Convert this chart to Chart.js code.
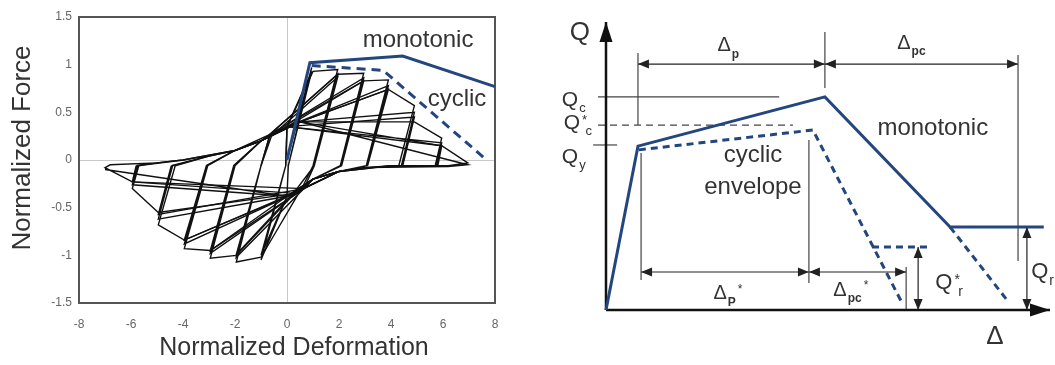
<!DOCTYPE html>
<html>
<head>
<meta charset="utf-8">
<script src="https://cdn.jsdelivr.net/npm/chart.js@4.4.1/dist/chart.umd.min.js"></script>
<style>
  body { margin: 0; background: #fff; }
  #left { position: absolute; left: 0; top: 0; }
  #right { position: absolute; left: 520px; top: 0; }
</style>
</head>
<body>
<canvas id="left" width="520" height="365"></canvas>
<canvas id="right" width="535" height="365"></canvas>
<script>
// Links: Hysterese-Schleifen (normierte Kraft / Verformung)
// Rechts: Modell-Rückgratkurve mit Bemaßung

const blue = '#24467e';
const font = '"Liberation Sans", Arial, sans-serif';

// ---- linkes Diagramm ----
const xTickValues = [-8, -6, -4, -2, 0, 2, 4, 6, 8];
const yTickValues = [-1.5, -1, -0.5, 0, 0.5, 1, 1.5];

const monotonicBackbone = [[0, 0], [0.88, 1.02], [4.45, 1.09], [8, 0.77]];
const cyclicBackbone = [[0.95, 0.99], [3.7, 0.94], [7.55, 0.03]];

const cycleAmp1 = [[0, 0], [0.95, 0.97], [0.05, -0.06], [0, -0.38], [-1, -1.05], [-0.05, -0.06], [0, 0.35],
  [0.95, 0.93], [0.05, -0.06], [0, -0.38], [-1, -1.0], [-0.05, -0.06]];
const cycleAmp2 = [[-0.05, -0.06], [0, 0.35], [1, 0.93], [1.95, 0.95], [1.0, -0.06], [0.6, -0.28],
  [-1, -1.02], [-1.95, -1.07], [-1.0, -0.06], [-0.65, 0.27], [1.95, 0.9], [1.05, -0.06], [0.65, -0.3],
  [-1.95, -1.02], [-1.0, -0.06], [-0.6, 0.25], [1.95, 0.87], [1.05, -0.06], [0.3, -0.33], [-1.95, -0.99],
  [-1.0, -0.06]];
const cycleAmp3 = [[-1.0, -0.06], [-0.65, 0.27], [1.95, 0.9], [2.95, 0.91], [2.05, -0.06], [1, -0.2],
  [0.3, -0.35], [-1.95, -1.0], [-2.95, -1.03], [-2.0, -0.06], [-1, 0.2], [-0.65, 0.27], [2.95, 0.86],
  [2.1, -0.06], [1, -0.2], [0.65, -0.3], [-2.95, -0.98], [-2.05, -0.06], [-1, 0.2], [0, 0.35], [2.95, 0.83],
  [2.1, -0.06], [1, -0.2], [0, -0.38], [-2.95, -0.95], [-2.05, -0.06]];
const cycleAmp4 = [[-2.05, -0.06], [-1, 0.2], [-0.65, 0.27], [2.95, 0.83], [3.9, 0.84], [3.05, -0.06],
  [2, -0.12], [1, -0.2], [0.65, -0.3], [-2.95, -0.95], [-3.95, -0.93], [-3.05, -0.06], [-2, 0.1], [-1, 0.2],
  [0, 0.35], [3.9, 0.78], [3.1, -0.06], [2, -0.12], [1, -0.2], [0.3, -0.35], [-3.95, -0.88], [-3.1, -0.06],
  [-2, 0.1], [-1, 0.2], [0.5, 0.4], [3.9, 0.74], [3.1, -0.06], [2, -0.12], [0, -0.38], [-3.95, -0.84],
  [-3.1, -0.06]];
const cycleAmp5 = [[-3.1, -0.06], [-2, 0.1], [-1, 0.2], [0, 0.35], [3.9, 0.74], [4.9, 0.57], [4.3, -0.06],
  [3, -0.08], [2, -0.12], [1, -0.2], [0.3, -0.35], [-3.95, -0.84], [-4.95, -0.68], [-4.3, -0.06], [-3, 0.04],
  [-2, 0.1], [-1, 0.2], [0.5, 0.4], [4.9, 0.5], [4.4, -0.06], [3, -0.08], [2, -0.12], [1, -0.2], [0, -0.38],
  [-4.95, -0.62], [-4.4, -0.06], [-3, 0.04], [-2, 0.1], [-1, 0.2], [0, 0.35], [4.9, 0.45], [4.45, -0.06],
  [3, -0.08], [2, -0.12], [0.65, -0.3], [-4.95, -0.57], [-4.45, -0.06]];
const cycleAmp6 = [[-4.45, -0.06], [-3, 0.04], [-2, 0.1], [-1, 0.2], [0.5, 0.4], [4.9, 0.4], [5.95, 0.23],
  [5.7, -0.06], [4, -0.06], [3, -0.08], [2, -0.12], [1, -0.2], [0.3, -0.35], [-4.95, -0.55], [-5.95, -0.3],
  [-5.7, -0.06], [-5, -0.03], [-4, 0.0], [-2, 0.1], [-1, 0.2], [0, 0.35], [5.95, 0.18], [5.75, -0.06],
  [4, -0.06], [2, -0.12], [1, -0.2], [0, -0.38], [-5.95, -0.26], [-5.75, -0.06], [-4, 0.0], [-2, 0.1],
  [-1, 0.2], [0.5, 0.4], [5.95, 0.15], [5.8, -0.06], [4, -0.06], [2, -0.12], [0.65, -0.3], [-5.95, -0.23],
  [-5.8, -0.06]];
const cycleAmp7 = [[-5.8, -0.06], [-5, -0.03], [-4, 0.0], [-2, 0.1], [0, 0.35], [5.95, 0.15], [6.95, -0.03],
  [6.2, -0.06], [4, -0.06], [2, -0.12], [1, -0.2], [0.3, -0.35], [-5.95, -0.23], [-7.0, -0.08],
  [-6.8, -0.05], [-5, -0.03], [-4, 0.0], [-2, 0.1], [-1, 0.2], [0.5, 0.4], [6.95, -0.05], [6.2, -0.07],
  [3, -0.08], [2, -0.12], [0, -0.38], [-7, -0.1]];

const leftLabels = [
  { text: 'monotonic', x: 5.04, y: 1.25 },
  { text: 'cyclic', x: 6.54, y: 0.64 }
];

// ---- rechtes Diagramm ----
const rightMonotonic = [[0, 0], [0.72, 5.69], [4.93, 7.40], [7.75, 2.88], [9.86, 2.88]];
const rightCyclic = [[0.74, 5.56], [4.66, 6.25], [6.67, 0.24]];
const cyclicResidual = [[5.99, 2.19], [7.34, 2.19]];
const cyclicTail = [[7.75, 2.88], [9.03, 0.35]];

const qAxis = [[0, 0], [0, 10]];
const deltaAxis = [[0, 0], [10, 0]];

const qcLine = [[-0.18, 7.40], [3.90, 7.40]];
const qcStarLine = [[-0.18, 6.42], [4.21, 6.42]];
const qyTick = [[-0.29, 5.73], [0.25, 5.73]];

const extensionLines = [
  [[0.72, 6.42], [0.72, 8.92]],
  [[4.93, 7.71], [4.93, 9.65]],
  [[9.28, 1.70], [9.28, 8.85]],
  [[0.79, 1.04], [0.79, 5.45]],
  [[4.57, 0.94], [4.57, 5.90]],
  [[6.76, 0], [6.76, 1.49]]
];

const dimensionArrows = [
  [[0.72, 8.54], [4.93, 8.54]],   // Δp
  [[4.93, 8.54], [9.28, 8.54]],   // Δpc
  [[0.79, 1.32], [4.57, 1.32]],   // Δp*
  [[4.57, 1.32], [6.76, 1.32]],   // Δpc*
  [[7.03, 0], [7.03, 2.19]],      // Q*r
  [[9.48, 0], [9.48, 2.88]]       // Qr
];

const rightLabels = [
  { kind: 'axis', base: 'Q', x: -0.59, y: 9.62 },
  { kind: 'axis', base: 'Δ', x: 8.76, y: -0.94 },
  { kind: 'q', base: 'Q', sub: 'c', x: -0.81, y: 7.29 },
  { kind: 'q', base: 'Q', sup: '*', sub: 'c', x: -0.77, y: 6.49 },
  { kind: 'q', base: 'Q', sub: 'y', x: -0.81, y: 5.31 },
  { kind: 'delta', base: 'Δ', sub: 'p', x: 2.66, y: 9.17 },
  { kind: 'delta', base: 'Δ', sub: 'pc', x: 6.71, y: 9.27 },
  { kind: 'delta', base: 'Δ', sub: 'P', after: '*', x: 2.57, y: 0.56 },
  { kind: 'delta', base: 'Δ', sub: 'pc', after: '*', x: 5.27, y: 0.69 },
  { kind: 'qr', base: 'Q', sup: '*', sub: 'r', x: 7.61, y: 0.94 },
  { kind: 'qr', base: 'Q', sub: 'r', x: 9.77, y: 1.32 },
  { kind: 'word', base: 'monotonic', x: 7.36, y: 6.32 },
  { kind: 'word', base: 'cyclic', x: 3.31, y: 5.38 },
  { kind: 'word', base: 'envelope', x: 3.31, y: 4.27 }
];

const labelSize = { axis: 26, q: 21, delta: 20, qr: 22, word: 24 };

function line(data, color, width, extra) {
  return Object.assign({
    data: data, borderColor: color, borderWidth: width, showLine: true,
    pointRadius: 0, tension: 0, fill: false, clip: false
  }, extra || {});
}

// Pfeilspitze, Spitze bei "to"
function head(ctx, from, to, len, half) {
  const a = Math.atan2(to.y - from.y, to.x - from.x);
  const bx = to.x - len * Math.cos(a), by = to.y - len * Math.sin(a);
  ctx.beginPath();
  ctx.moveTo(to.x, to.y);
  ctx.lineTo(bx + half * Math.sin(a), by - half * Math.cos(a));
  ctx.lineTo(bx - half * Math.sin(a), by + half * Math.cos(a));
  ctx.closePath();
  ctx.fill();
}

const arrowPlugin = {
  id: 'arrows',
  afterDatasetsDraw(chart) {
    const ctx = chart.ctx;
    chart.data.datasets.forEach((ds, i) => {
      if (!ds.arrows) return;
      const pts = chart.getDatasetMeta(i).data;
      const a = pts[0], b = pts[pts.length - 1];
      ctx.save();
      ctx.fillStyle = ds.borderColor;
      head(ctx, a, b, ds.headLen, ds.headHalf);
      if (ds.arrows === 'both') head(ctx, b, a, ds.headLen, ds.headHalf);
      ctx.restore();
    });
  }
};

function drawRich(ctx, l, px, py) {
  const size = labelSize[l.kind];
  const small = Math.round(size * 0.62);
  ctx.fillStyle = '#333';
  ctx.textBaseline = 'middle';
  ctx.textAlign = 'center';
  ctx.font = size + 'px ' + font;
  ctx.fillText(l.base, px, py);
  let cx = px + ctx.measureText(l.base).width / 2 + 1;
  ctx.textAlign = 'left';
  let supW = 0;
  if (l.sup) {
    ctx.font = small + 'px ' + font;
    ctx.fillText(l.sup, cx + 1, py - size * 0.12);
    supW = ctx.measureText(l.sup).width;
  }
  if (l.sub) {
    ctx.font = (l.kind === 'delta' ? 'bold ' : '') + small + 'px ' + font;
    ctx.fillText(l.sub, cx + supW * 0.9, py + size * 0.42);
    cx += supW * 0.9 + ctx.measureText(l.sub).width;
  }
  if (l.after) {
    ctx.font = small + 'px ' + font;
    ctx.fillText(l.after, cx + 2, py - size * 0.2);
  }
}

const leftDecor = {
  id: 'leftDecor',
  beforeDatasetsDraw(chart) {
    const { ctx, chartArea: a } = chart;
    ctx.save();
    ctx.strokeStyle = '#555';
    ctx.lineWidth = 2;
    ctx.strokeRect(a.left, a.top, a.right - a.left, a.bottom - a.top);
    ctx.restore();
  },
  afterDraw(chart) {
    const { ctx, scales: { x, y } } = chart;
    ctx.save();
    ctx.fillStyle = '#333';
    ctx.textAlign = 'center';
    ctx.textBaseline = 'middle';
    ctx.font = '24px ' + font;
    leftLabels.forEach(l => ctx.fillText(l.text, x.getPixelForValue(l.x), y.getPixelForValue(l.y)));
    ctx.font = '25px ' + font;
    ctx.fillText('Normalized Deformation', 294, 348);
    ctx.translate(23, 148);
    ctx.rotate(-Math.PI / 2);
    ctx.font = '26px ' + font;
    ctx.fillText('Normalized Force', 0, 0);
    ctx.restore();
  }
};

const cycles = [cycleAmp1, cycleAmp2, cycleAmp3, cycleAmp4, cycleAmp5, cycleAmp6, cycleAmp7];
const zeroGrid = c => c.tick && c.tick.value === 0 ? '#c8c8c8' : 'rgba(0,0,0,0)';

new Chart(document.getElementById('left'), {
  type: 'scatter',
  data: {
    datasets: [
      line(monotonicBackbone, blue, 3),
      line(cyclicBackbone, blue, 3, { borderDash: [9, 6] })
    ].concat(cycles.map(c => line(c, '#111', 1.4)))
  },
  options: {
    responsive: false,
    animation: false,
    layout: { padding: { left: 0, right: 25, top: 17, bottom: 0 } },
    plugins: { legend: { display: false }, tooltip: { enabled: false } },
    scales: {
      x: {
        type: 'linear', min: -8, max: 8,
        afterBuildTicks: s => { s.ticks = xTickValues.map(v => ({ value: v })); },
        afterFit: s => { s.height = 62; },
        grid: { drawTicks: false, color: zeroGrid },
        border: { display: false },
        ticks: { padding: 14, color: '#666', font: { family: font, size: 12 }, callback: v => String(v) }
      },
      y: {
        type: 'linear', min: -1.5, max: 1.5,
        afterBuildTicks: s => { s.ticks = yTickValues.map(v => ({ value: v })); },
        afterFit: s => { s.width = 79; },
        grid: { drawTicks: false, color: zeroGrid },
        border: { display: false },
        ticks: { padding: 7, color: '#666', font: { family: font, size: 12 }, callback: v => String(v) }
      }
    }
  },
  plugins: [leftDecor]
});

const rightText = {
  id: 'rightText',
  afterDraw(chart) {
    const { ctx, scales: { x, y } } = chart;
    ctx.save();
    rightLabels.forEach(l => drawRich(ctx, l, x.getPixelForValue(l.x), y.getPixelForValue(l.y)));
    ctx.restore();
  }
};

const thin = '#444';
new Chart(document.getElementById('right'), {
  type: 'scatter',
  data: {
    datasets: [
      line(rightMonotonic, blue, 3),
      line(rightCyclic, blue, 3, { borderDash: [7, 5] }),
      line(cyclicResidual, blue, 3, { borderDash: [7, 5] }),
      line(cyclicTail, blue, 3, { borderDash: [7, 5] }),
      line(qAxis, '#111', 2.5, { arrows: 'end', headLen: 20, headHalf: 6.5 }),
      line(deltaAxis, '#111', 2.5, { arrows: 'end', headLen: 20, headHalf: 6.5 }),
      line(qcLine, thin, 1.2),
      line(qcStarLine, thin, 1.2, { borderDash: [7, 5] }),
      line(qyTick, thin, 1.2)
    ]
      .concat(extensionLines.map(e => line(e, thin, 1.2)))
      .concat(dimensionArrows.map(d => line(d, '#222', 1.2, { arrows: 'both', headLen: 11, headHalf: 4.5 })))
  },
  options: {
    responsive: false,
    animation: false,
    layout: { padding: { left: 86, right: 5, top: 22, bottom: 55 } },
    plugins: { legend: { display: false }, tooltip: { enabled: false } },
    scales: {
      x: { type: 'linear', min: 0, max: 10, display: false },
      y: { type: 'linear', min: 0, max: 10, display: false }
    }
  },
  plugins: [arrowPlugin, rightText]
});
</script>
</body>
</html>
